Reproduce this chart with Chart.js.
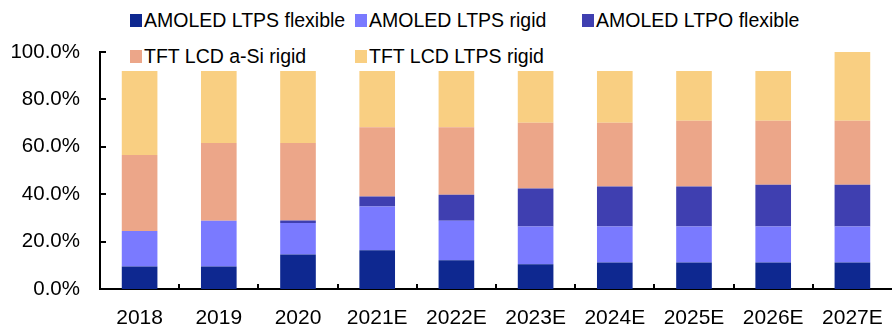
<!DOCTYPE html>
<html>
<head>
<meta charset="utf-8">
<script src="https://cdn.jsdelivr.net/npm/chart.js@4"></script>
<style>
  body { margin: 0; background: #fff; }
  #wrap { position: relative; width: 892px; height: 331px; font-family: "Liberation Sans", Arial, sans-serif; }
  #legend { position: absolute; left: 112px; top: 0; width: 708px; height: 71px; background: #fff;
            display: grid; grid-template-columns: 225px 227px auto; grid-auto-rows: 36px;
            padding: 9px 0 0 18px; box-sizing: border-box; font-size: 19.5px; color: #000; }
  #legend .item { display: flex; align-items: center; height: 22px; white-space: nowrap; }
  #legend .box { width: 12px; height: 13px; margin-right: 2px; }
</style>
</head>
<body>
<div id="wrap">
  <canvas id="myChart" width="892" height="331"></canvas>
  <div id="legend"></div>
</div>
<script>
var years = ["2018", "2019", "2020", "2021E", "2022E", "2023E", "2024E", "2025E", "2026E", "2027E"];
var seriesNames = ["AMOLED LTPS flexible", "AMOLED LTPS rigid", "AMOLED LTPO flexible", "TFT LCD a-Si rigid", "TFT LCD LTPS rigid"];
var amoledLtpsFlex = [9.5, 9.5, 14.6, 16.3, 12.1, 10.4, 11.2, 11.2, 11.2, 11.2];
var amoledLtpsRigid = [15.0, 19.3, 13.3, 18.5, 16.7, 16.0, 15.2, 15.2, 15.2, 15.2];
var amoledLtpoFlex = [0, 0, 1.0, 4.2, 11.0, 16.0, 16.8, 16.8, 17.6, 17.6];
var tftAsiRigid = [32.0, 32.8, 32.7, 29.3, 28.5, 27.8, 27.0, 27.8, 27.0, 27.0];
var tftLtpsRigid = [43.5, 38.4, 38.4, 31.7, 31.7, 29.8, 29.8, 29.0, 29.0, 29.0];
var barColors = ["#0E2890", "#7A7AFF", "#3F3FB0", "#ECA689", "#F9CF82"];

var allValues = [amoledLtpsFlex, amoledLtpsRigid, amoledLtpoFlex, tftAsiRigid, tftLtpsRigid];
var datasets = seriesNames.map(function (name, i) {
  return {
    label: name,
    data: allValues[i],
    backgroundColor: barColors[i],
    barPercentage: 0.45,
    categoryPercentage: 1
  };
});

// small tick marks pointing into the plot, like the excel original
var innerTicks = {
  id: "innerTicks",
  afterDatasetsDraw: function (chart) {
    var ctx = chart.ctx, xs = chart.scales.x, ys = chart.scales.y, area = chart.chartArea;
    ctx.save();
    ctx.strokeStyle = "#000";
    ctx.lineWidth = 2;
    ctx.beginPath();
    ys.ticks.forEach(function (t) {
      var y = Math.round(ys.getPixelForValue(t.value));
      ctx.moveTo(area.left, y);
      ctx.lineTo(area.left + 6, y);
    });
    var half = (xs.getPixelForValue(1) - xs.getPixelForValue(0)) / 2;
    for (var i = 1; i < years.length; i++) {
      var x = Math.round(xs.getPixelForValue(i) - half);
      ctx.moveTo(x, area.bottom);
      ctx.lineTo(x, area.bottom - 5);
    }
    ctx.stroke();
    ctx.restore();
  }
};

new Chart("myChart", {
  type: "bar",
  data: { labels: years, datasets: datasets },
  plugins: [innerTicks],
  options: {
    responsive: false,
    animation: false,
    layout: { padding: { top: 52, right: -6, left: 0, bottom: 0 } },
    plugins: { legend: { display: false }, tooltip: { enabled: false } },
    scales: {
      x: {
        stacked: true,
        offset: true,
        border: { color: "#000", width: 2 },
        grid: { display: false, drawTicks: false },
        ticks: { color: "#000", padding: 17, font: { family: "Liberation Sans", size: 21 } },
        afterFit: function (s) { s.height = 42; s.paddingLeft = 0; s.paddingRight = 0; }
      },
      y: {
        stacked: true,
        min: 0,
        max: 100,
        border: { color: "#000", width: 2 },
        grid: { display: false, drawTicks: false },
        ticks: {
          stepSize: 20, color: "#000", padding: 20,
          font: { family: "Liberation Sans", size: 20.5 },
          callback: function (v) { return v.toFixed(1) + "%"; }
        },
        afterFit: function (s) { s.width = 100; }
      }
    }
  }
});

// legend in the excel grid style, sitting over the top of the plot
var leg = document.getElementById("legend");
seriesNames.forEach(function (name, i) {
  var item = document.createElement("div");
  item.className = "item";
  if (i === 3) item.style.gridColumn = "1";
  item.innerHTML = '<span class="box" style="background:' + barColors[i] + '"></span>' + name;
  leg.appendChild(item);
});
</script>
</body>
</html>
